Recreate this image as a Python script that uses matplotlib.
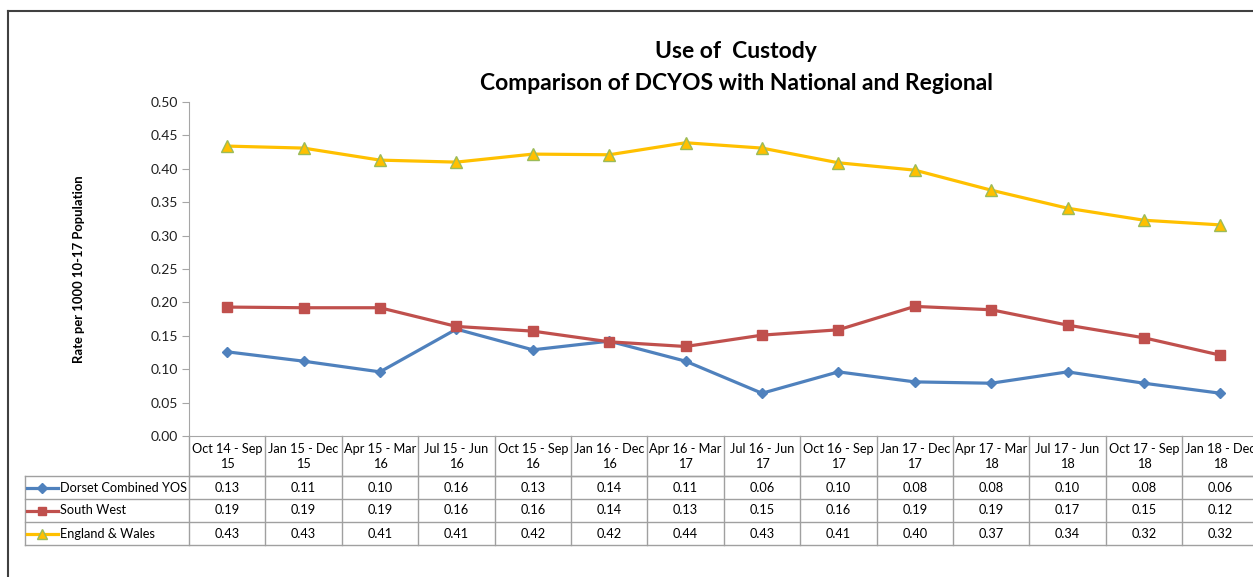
import matplotlib
matplotlib.use("Agg")
import matplotlib.pyplot as plt
from matplotlib.lines import Line2D

plt.rcParams['font.family'] = ['Lato', 'DejaVu Sans']

categories = ["Oct 14 - Sep\n15", "Jan 15 - Dec\n15", "Apr 15 - Mar\n16", "Jul 15 - Jun\n16",
              "Oct 15 - Sep\n16", "Jan 16 - Dec\n16", "Apr 16 - Mar\n17", "Jul 16 - Jun\n17",
              "Oct 16 - Sep\n17", "Jan 17 - Dec\n17", "Apr 17 - Mar\n18", "Jul 17 - Jun\n18",
              "Oct 17 - Sep\n18", "Jan 18 - Dec\n18"]
dorset = [0.126, 0.112, 0.096, 0.160, 0.129, 0.142, 0.112, 0.064, 0.096, 0.081, 0.079, 0.096, 0.079, 0.064]
south_west = [0.193, 0.192, 0.192, 0.164, 0.157, 0.141, 0.134, 0.151, 0.159, 0.194, 0.189, 0.166, 0.147, 0.121]
england_wales = [0.434, 0.431, 0.413, 0.410, 0.422, 0.421, 0.439, 0.431, 0.409, 0.398, 0.368, 0.341, 0.323, 0.316]
series_names = ["Dorset Combined YOS", "South West", "England & Wales"]
yticks = [0.00, 0.05, 0.10, 0.15, 0.20, 0.25, 0.30, 0.35, 0.40, 0.45, 0.50]

W, H = 1253, 577
fig = plt.figure(figsize=(W / 100, H / 100), dpi=100)
fig.patch.set_facecolor('white')

colw = 76.4
ax = fig.add_axes([189 / W, 1 - 436 / H, 14 * colw / W, 334 / H])
x = list(range(len(categories)))

styles = [
    dict(color='#4F81BD', marker='D', markersize=5.5, markerfacecolor='#4F81BD', markeredgecolor='#4F81BD'),
    dict(color='#C0504D', marker='s', markersize=7, markerfacecolor='#C0504D', markeredgecolor='#C0504D'),
    dict(color='#FFC000', marker='^', markersize=8, markerfacecolor='#FFC000', markeredgecolor='#9BBB59'),
]
data = [dorset, south_west, england_wales]
for vals, st in zip(data, styles):
    ax.plot(x, vals, linewidth=2.3, **st)

ax.set_xlim(-0.5, len(categories) - 0.5)
ax.set_ylim(0, 0.5)
ax.set_yticks(yticks)
ax.set_yticklabels([f"{v:.2f}" for v in yticks], fontsize=10, color='#202020')
ax.set_xticks([])
for s in ['top', 'right']:
    ax.spines[s].set_visible(False)
ax.spines['left'].set_color('#a6a6a6')
ax.spines['bottom'].set_color('#a6a6a6')
ax.tick_params(axis='y', direction='out', length=5, color='#a6a6a6', pad=3)
ax.set_ylabel("Rate per 1000 10-17 Population", fontsize=9.4, fontweight='bold', labelpad=47)

# table
tr = ax.get_xaxis_transform()
ph = 334.0
def yf(py):
    return -(py - 436) / ph

lc = '#a0a0a0'
row_edges = [436, 476, 499, 522, 545]
xl = -0.5 - (189 - 25) / colw
xr = len(categories) - 0.5
ax.plot([-0.5, xr], [yf(476)] * 2, transform=tr, color=lc, lw=1, clip_on=False)
for py in row_edges[1:]:
    ax.plot([xl, xr], [yf(py)] * 2, transform=tr, color=lc, lw=1, clip_on=False)
for i in range(len(categories) + 1):
    ax.plot([i - 0.5] * 2, [yf(436), yf(545)], transform=tr, color=lc, lw=1, clip_on=False)
ax.plot([xl] * 2, [yf(476), yf(545)], transform=tr, color=lc, lw=1, clip_on=False)

fs = 9.2
for i, c in enumerate(categories):
    ax.text(i, yf(456.5), c, transform=tr, ha='center', va='center', fontsize=fs,
            linespacing=1.3, clip_on=False)
for r, (vals, name, st) in enumerate(zip(data, series_names, styles)):
    yc = yf((row_edges[r + 1] + row_edges[r + 2]) / 2)
    for i, v in enumerate(vals):
        ax.text(i, yc, f"{v:.2f}", transform=tr, ha='center', va='center', fontsize=fs, clip_on=False)
    lx0 = xl + 2 / colw
    lx1 = xl + 33 / colw
    ax.add_line(Line2D([lx0, lx1], [yc, yc], transform=tr, linewidth=2.3, color=st['color'], clip_on=False))
    ax.plot([(lx0 + lx1) / 2], [yc], transform=tr, linestyle='none', clip_on=False,
            marker=st['marker'], markersize=st['markersize'] * 0.9,
            markerfacecolor=st['markerfacecolor'], markeredgecolor=st['markeredgecolor'])
    ax.text(xl + 35 / colw, yc, name, transform=tr, ha='left', va='center', fontsize=fs, clip_on=False)

# titles
fig.text(736 / W, 1 - 51.5 / H, "Use of  Custody", ha='center', va='center', fontsize=16.5, fontweight='bold')
fig.text(736 / W, 1 - 83.5 / H, "Comparison of DCYOS with National and Regional", ha='center', va='center',
         fontsize=16.5, fontweight='bold')

# outer border
fig.add_artist(Line2D([8 / W, 8 / W], [0, 1 - 11 / H], transform=fig.transFigure, color='#404040', lw=1.5))
fig.add_artist(Line2D([8 / W, 1], [1 - 11 / H, 1 - 11 / H], transform=fig.transFigure, color='#404040', lw=1.5))

fig.savefig("out.png", dpi=100, facecolor='white')
